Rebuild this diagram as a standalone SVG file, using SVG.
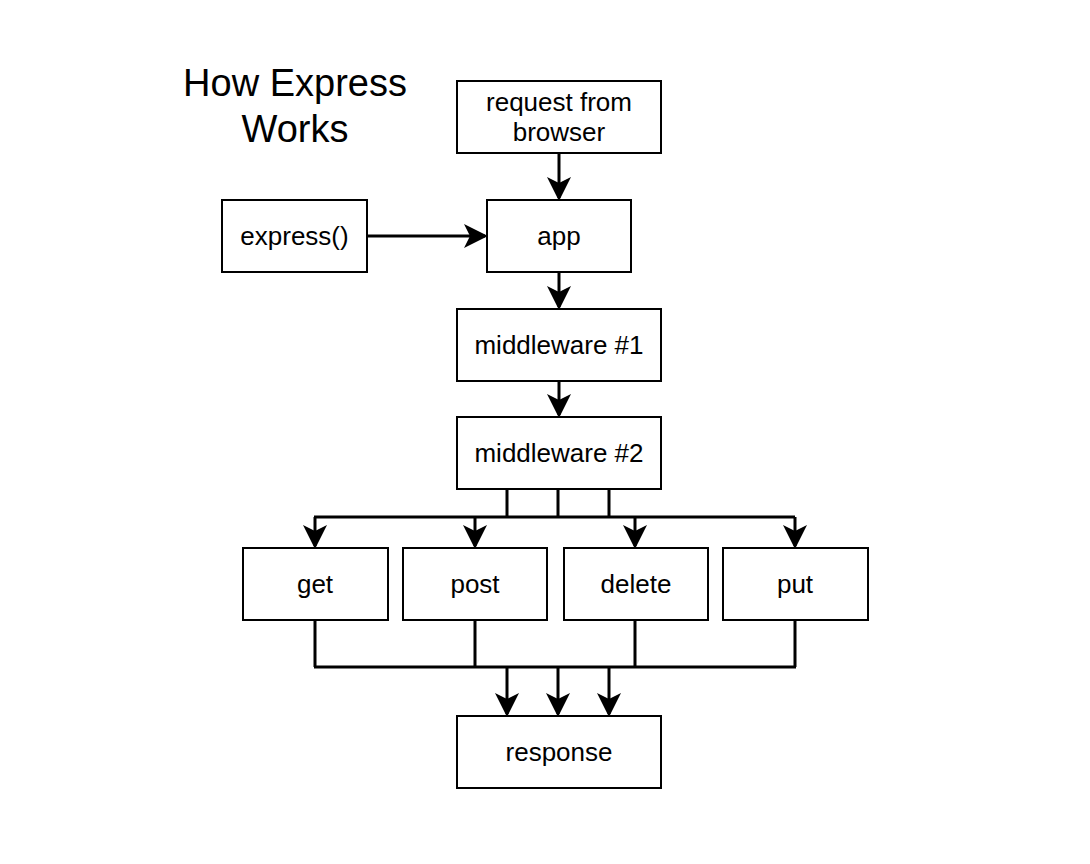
<svg xmlns="http://www.w3.org/2000/svg" width="1090" height="864" viewBox="0 0 1090 864">
<style>
.box{fill:#fff;stroke:#000;stroke-width:2}
.lbl{font-family:"Liberation Sans",Arial,sans-serif;font-size:26px;text-anchor:middle;fill:#000}
.ttl{font-family:"Liberation Sans",Arial,sans-serif;font-size:38px;text-anchor:middle;fill:#000}
.ln{fill:none;stroke:#000;stroke-width:3}
</style>
<defs>
<marker id="arr" markerWidth="8" markerHeight="8" refX="7" refY="4" orient="auto" markerUnits="strokeWidth" viewBox="0 0 8 8">
<path d="M0,0 L8,4 L0,8 L2,4 Z" fill="#000"/>
</marker>
</defs>
<rect width="1090" height="864" fill="#fff"/>
<text class="ttl" x="295" y="96">How Express</text>
<text class="ttl" x="295" y="142">Works</text>
<g id="connectors">
<path class="ln" d="M559,153 V198" marker-end="url(#arr)"/>
<path class="ln" d="M367,236 H485" marker-end="url(#arr)"/>
<path class="ln" d="M559,272 V307" marker-end="url(#arr)"/>
<path class="ln" d="M559,381 V415" marker-end="url(#arr)"/>
<path class="ln" d="M507,489 V517 M558,489 V517 M609,489 V517 M314,517 H795"/>
<path class="ln" d="M315,517 V546" marker-end="url(#arr)"/>
<path class="ln" d="M475,517 V546" marker-end="url(#arr)"/>
<path class="ln" d="M635,517 V546" marker-end="url(#arr)"/>
<path class="ln" d="M795,517 V546" marker-end="url(#arr)"/>
<path class="ln" d="M315,620 V667 M475,620 V667 M635,620 V667 M795,620 V667 M314,667 H796"/>
<path class="ln" d="M507,667 V714" marker-end="url(#arr)"/>
<path class="ln" d="M558,667 V714" marker-end="url(#arr)"/>
<path class="ln" d="M609,667 V714" marker-end="url(#arr)"/>
</g>
<g id="request"><rect class="box" x="457" y="81" width="204" height="72"/><text class="lbl" x="559" y="111">request from</text><text class="lbl" x="559" y="141">browser</text></g>
<g id="express"><rect class="box" x="222" y="200" width="145" height="72"/><text class="lbl" x="294.5" y="245">express()</text></g>
<g id="app"><rect class="box" x="487" y="200" width="144" height="72"/><text class="lbl" x="559" y="245">app</text></g>
<g id="mw1"><rect class="box" x="457" y="309" width="204" height="72"/><text class="lbl" x="559" y="354">middleware #1</text></g>
<g id="mw2"><rect class="box" x="457" y="417" width="204" height="72"/><text class="lbl" x="559" y="462">middleware #2</text></g>
<g id="get"><rect class="box" x="243" y="548" width="145" height="72"/><text class="lbl" x="315" y="593">get</text></g>
<g id="post"><rect class="box" x="403" y="548" width="144" height="72"/><text class="lbl" x="475" y="593">post</text></g>
<g id="delete"><rect class="box" x="564" y="548" width="144" height="72"/><text class="lbl" x="636" y="593">delete</text></g>
<g id="put"><rect class="box" x="723" y="548" width="145" height="72"/><text class="lbl" x="795" y="593">put</text></g>
<g id="response"><rect class="box" x="457" y="716" width="204" height="72"/><text class="lbl" x="559" y="761">response</text></g>
</svg>
